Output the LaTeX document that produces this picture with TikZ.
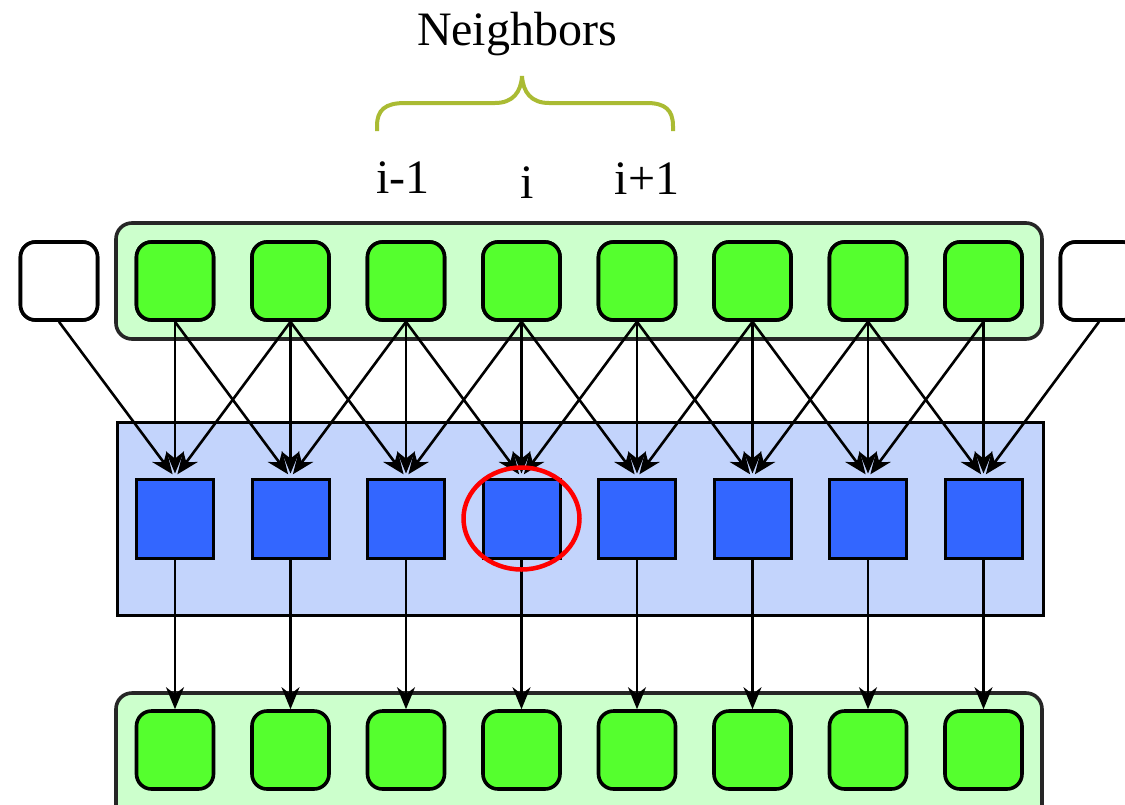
\documentclass[tikz,border=0pt]{standalone}
\usepackage{fontspec}
\setmainfont{Liberation Serif}
\usetikzlibrary{arrows.meta}
\definecolor{grn}{HTML}{55FF2E}
\definecolor{lgrn}{HTML}{CCFFCC}
\definecolor{blu}{HTML}{3366FF}
\definecolor{lblu}{HTML}{C3D4FC}
\definecolor{brc}{HTML}{AABB33}
\tikzset{
  gsq/.style={draw=black, line width=3.6pt, fill=grn, rounded corners=15pt, minimum width=77pt, minimum height=78pt, inner sep=0pt},
  wsq/.style={gsq, fill=white},
  bsq/.style={draw=black, line width=3pt, fill=blu, minimum width=77pt, minimum height=79pt, inner sep=0pt},
  gcont/.style={draw=black!85, line width=3.6pt, fill=lgrn, rounded corners=16pt},
  bcont/.style={draw=black, line width=3pt, fill=lblu},
  arr/.style={line width=2.6pt, -{Stealth[length=22pt,width=18pt,inset=7pt]}},
  lbl/.style={font=\fontsize{48}{50}\selectfont, anchor=base, inner sep=0pt}
}
\begin{document}
\begin{tikzpicture}[x=1pt,y=-1pt]
\useasboundingbox (0,0) rectangle (1125,804);
% containers
\draw[gcont] (116,223) rectangle (1042,339);
\draw[bcont] (117,422) rectangle (1043,615);
\draw[gcont] (116,693) rectangle (1042,830);
% top row
\node[wsq] (t0) at (59,281) {};
\node[wsq] (t9) at (1099,281) {};
\foreach \k [evaluate=\k as \xx using 175+115.5*(\k-1)] in {1,...,8} {
  \node[gsq] (t\k) at (\xx,281) {};
  \node[bsq] (b\k) at (\xx,518.5) {};
  \node[gsq] (o\k) at (\xx,750) {};
}
% arrows
\foreach \k [evaluate=\k as \p using int(\k-1), evaluate=\k as \n using int(\k+1)] in {1,...,8} {
  \draw[arr, shorten >=4pt] (t\p.south) -- (b\k.north);
  \draw[arr, shorten >=4pt] (t\k.south) -- (b\k.north);
  \draw[arr, shorten >=4pt] (t\n.south) -- (b\k.north);
  \draw[arr] (b\k.south) -- (o\k.north);
}
% redraw squares on top of arrow ends
\foreach \k [evaluate=\k as \xx using 175+115.5*(\k-1)] in {1,...,8} {
  \node[gsq] at (\xx,281) {};
  \node[bsq] at (\xx,518.5) {};
}
\node[wsq] at (59,281) {};
\node[wsq] at (1099,281) {};
% red ellipse
\draw[red, line width=4.5pt] (b4.center) ellipse [x radius=58pt, y radius=51pt];
% labels
\node[lbl] (nb) at (517,45) {Neighbors};
\node[lbl] (lm) at (403,193) {i-1};
\node[lbl] (li) at (527,198) {i};
\node[lbl] (lp) at (647,194) {i+1};
% brace
\draw[brc, line width=4pt] (377,131) -- (377,126) .. controls (377,110) and (385,103) .. (405,103)
  -- (495,103) .. controls (513,103) and (521,92) .. (522,76)
  .. controls (523,92) and (531,103) .. (549,103) -- (647,103)
  .. controls (665,103) and (673,110) .. (673,126) -- (673,131);
\end{tikzpicture}
\end{document}
